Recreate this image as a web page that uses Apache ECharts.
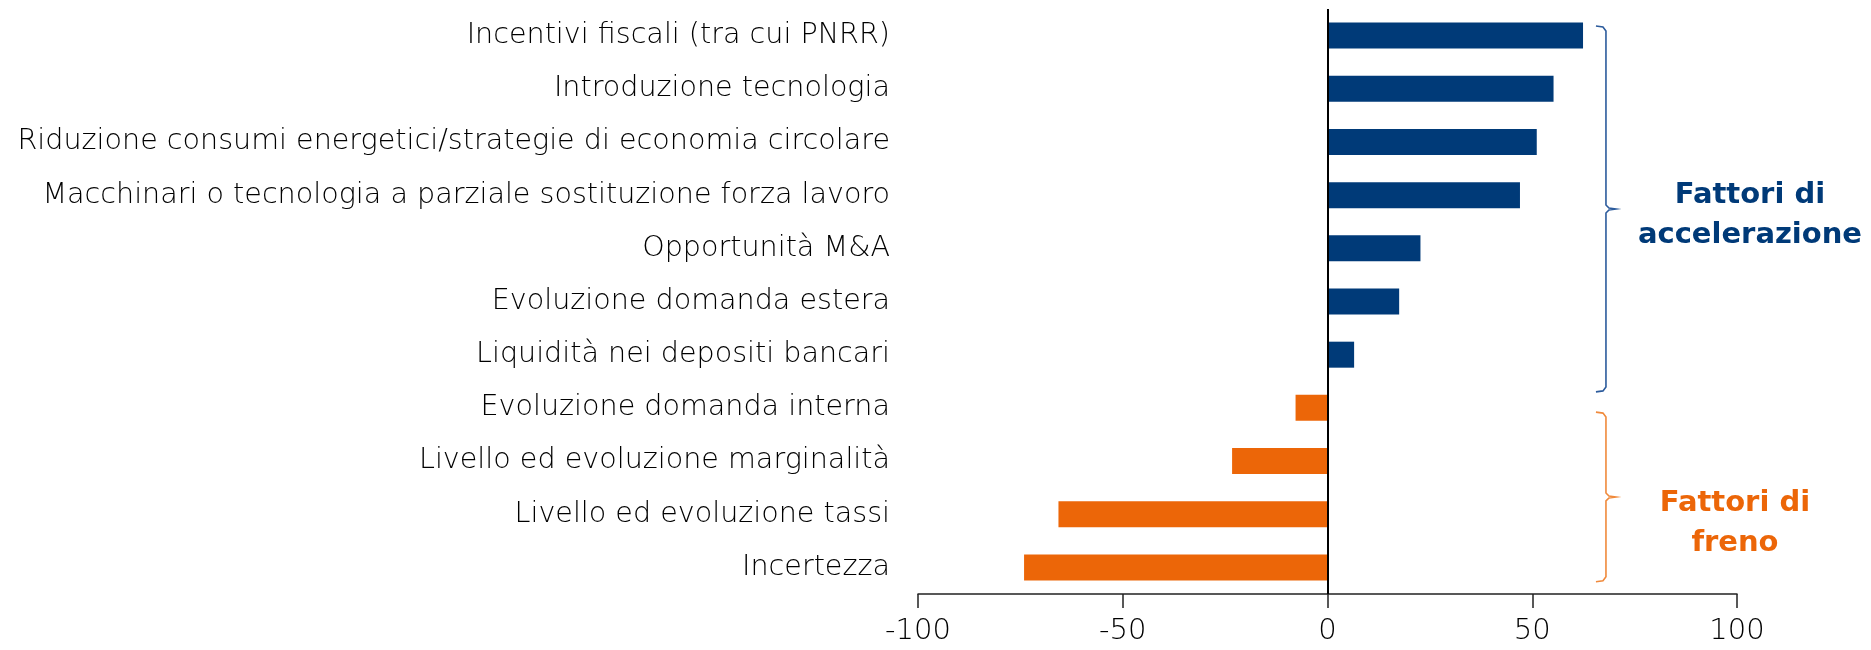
<!DOCTYPE html>
<html>
<head>
    <meta charset="utf-8">
    <title>Fattori di accelerazione e freno</title>
    <script src="https://cdn.jsdelivr.net/npm/echarts@6/dist/echarts.min.js"></script>
    <style>
        html, body { margin: 0; padding: 0; background: #fff; }
    </style>
</head>
<body>
<div id="main" style="width: 1871px;height:650px;"></div>
<script type="text/javascript">
    // dati
    var categories = [
        'Incentivi fiscali (tra cui PNRR)',
        'Introduzione tecnologia',
        'Riduzione consumi energetici/strategie di economia circolare',
        'Macchinari o tecnologia a parziale sostituzione forza lavoro',
        'Opportunità M&A',
        'Evoluzione domanda estera',
        'Liquidità nei depositi bancari',
        'Evoluzione domanda interna',
        'Livello ed evoluzione marginalità',
        'Livello ed evoluzione tassi',
        'Incertezza'
    ];
    var values = [62.4, 55.2, 51.1, 47.0, 22.7, 17.5, 6.5, -7.8, -23.3, -65.7, -74.1];
    var xTicks = [-100, -50, 0, 50, 100];

    // gruppi per le parentesi a destra
    var groups = [
        { label: 'Fattori di\naccelerazione', from: 0, to: 6, color: '#003a78', brace: '#2c5b9c', dx: 0, dy: 7 },
        { label: 'Fattori di\nfreno', from: 7, to: 10, color: '#ec6608', brace: '#f08a3c', dx: -15, dy: 27 }
    ];

    var BLUE = '#003a78';
    var ORANGE = '#ec6608';
    var FONT = '"DejaVu Sans"';

    var myChart = echarts.init(document.getElementById('main'), null, {renderer: 'canvas'});

    var option = {
        animation: false,
        grid: {
            left: 918,
            right: 134,
            top: 9,
            bottom: 56,
            containLabel: false,
            outerBoundsMode: 'none'
        },
        xAxis: {
            type: 'value',
            min: xTicks[0],
            max: xTicks[xTicks.length - 1],
            interval: 50,
            axisLine: { show: true, lineStyle: { color: '#222', width: 1.5 } },
            axisTick: { show: true, length: 14, lineStyle: { color: '#222', width: 1.5 } },
            splitLine: { show: false },
            axisLabel: {
                color: '#000',
                fontFamily: FONT,
                fontWeight: 200,
                fontSize: 29,
                margin: 23
            }
        },
        yAxis: {
            type: 'category',
            inverse: true,
            data: categories,
            axisLine: { show: false, onZero: false },
            axisTick: { show: false },
            axisLabel: {
                color: '#000',
                fontFamily: FONT,
                fontWeight: 200,
                fontSize: 28.6,
                margin: 28
            }
        },
        series: [{
            type: 'bar',
            data: values,
            barWidth: 26,
            itemStyle: {
                color: function (p) { return p.value >= 0 ? BLUE : ORANGE; }
            },
            markLine: {
                silent: true,
                symbol: 'none',
                label: { show: false },
                lineStyle: { color: '#000', width: 2, type: 'solid' },
                data: [{ xAxis: 0 }]
            }
        }]
    };

    myChart.setOption(option);

    // parentesi graffe e testi, posizionati tramite le scale del grafico
    function bracePoints(x, yTop, yBot) {
        var yMid = (yTop + yBot) / 2;
        return [
            [x - 10, yTop], [x - 3, yTop + 1], [x, yTop + 5],
            [x, yMid - 4], [x + 3, yMid - 1], [x + 10, yMid],
            [x + 3, yMid + 1], [x, yMid + 4],
            [x, yBot - 5], [x - 3, yBot - 1], [x - 10, yBot]
        ];
    }

    var graphics = [];
    groups.forEach(function (g) {
        var top = myChart.convertToPixel({ xAxisIndex: 0, yAxisIndex: 0 }, [68, g.from]);
        var bot = myChart.convertToPixel({ xAxisIndex: 0, yAxisIndex: 0 }, [68, g.to]);
        var band = (bot[1] - top[1]) / Math.max(1, g.to - g.from);
        var yTop = top[1] - band * (g.from === 0 ? 0.18 : -0.08);
        var yBot = bot[1] + band * (g.from === 0 ? 0.7 : 0.27);
        var x = top[0];
        graphics.push({
            type: 'polyline',
            silent: true,
            shape: { points: bracePoints(x, yTop, yBot) },
            style: { stroke: g.brace, lineWidth: 1.6, fill: null }
        });
        graphics.push({
            type: 'text',
            silent: true,
            x: x + 144 + g.dx,
            y: (yTop + yBot) / 2 + g.dy,
            style: {
                text: g.label,
                fill: g.color,
                font: 'bold 29px ' + FONT,
                align: 'center',
                verticalAlign: 'middle',
                lineHeight: 40
            }
        });
    });
    myChart.setOption({ graphic: graphics });
</script>
</body>
</html>
